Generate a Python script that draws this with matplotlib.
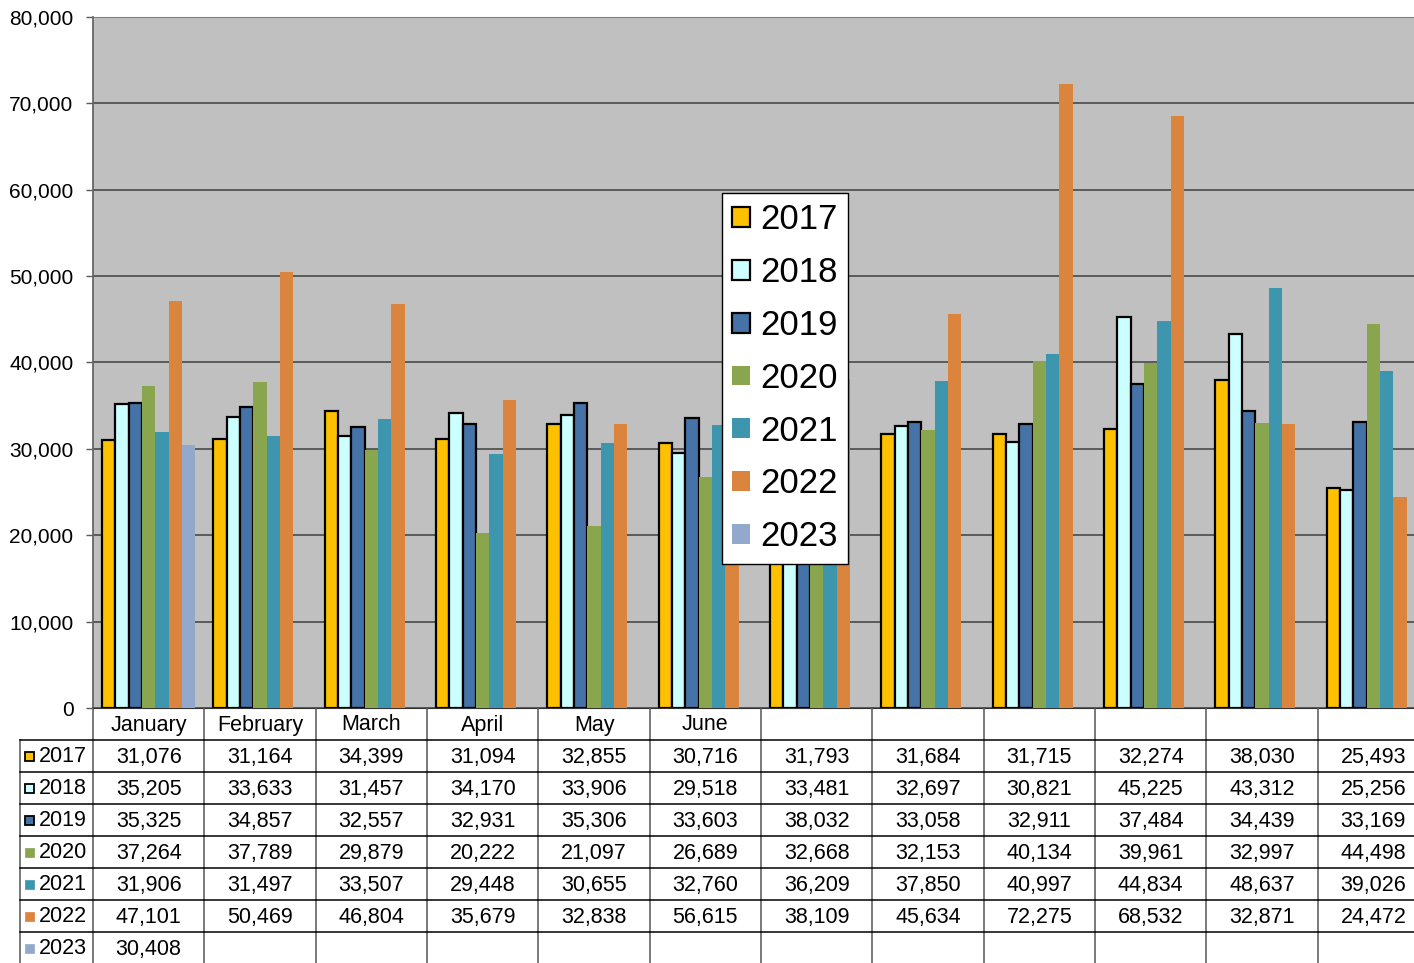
import matplotlib
matplotlib.use("Agg")
import matplotlib.pyplot as plt
from matplotlib.patches import Rectangle
import numpy as np

plt.rcParams['font.family'] = ['Liberation Sans', 'DejaVu Sans']

months = ["January", "February", "March", "April", "May", "June",
          "July", "August", "September", "October", "November", "December"]
month_labels = ["January", "February", "March", "April", "May", "June",
                "", "", "", "", "", ""]
years = ["2017", "2018", "2019", "2020", "2021", "2022", "2023"]

v2017 = [31076, 31164, 34399, 31094, 32855, 30716, 31793, 31684, 31715, 32274, 38030, 25493]
v2018 = [35205, 33633, 31457, 34170, 33906, 29518, 33481, 32697, 30821, 45225, 43312, 25256]
v2019 = [35325, 34857, 32557, 32931, 35306, 33603, 38032, 33058, 32911, 37484, 34439, 33169]
v2020 = [37264, 37789, 29879, 20222, 21097, 26689, 32668, 32153, 40134, 39961, 32997, 44498]
v2021 = [31906, 31497, 33507, 29448, 30655, 32760, 36209, 37850, 40997, 44834, 48637, 39026]
v2022 = [47101, 50469, 46804, 35679, 32838, 56615, 38109, 45634, 72275, 68532, 32871, 24472]
v2023 = [30408, None, None, None, None, None, None, None, None, None, None, None]
series = [v2017, v2018, v2019, v2020, v2021, v2022, v2023]

colors = ["#FFC000", "#CCFFFF", "#4572A7", "#89A54E", "#3D96AE", "#DB843D", "#92A8CD"]
edged = [True, True, True, False, False, False, False]

W, H = 1414, 963
fig = plt.figure(figsize=(W / 100, H / 100), dpi=100)

ax_left, ax_right, ax_top, ax_bot = 93, 1429, 17, 708
ax = fig.add_axes([ax_left / W, 1 - ax_bot / H, (ax_right - ax_left) / W, (ax_bot - ax_top) / H])
ax.set_facecolor("#C0C0C0")
ax.set_xlim(-0.5, 11.5)
ax.set_ylim(0, 80000)
yt = np.arange(0, 80001, 10000)
ax.set_yticks(yt)
ax.set_yticklabels([f"{v:,}" for v in yt], fontsize=15)
ax.tick_params(axis='y', length=5, width=1, color="#595959", pad=9)
ax.set_xticks([])
ax.yaxis.grid(True, color="#404040", linewidth=1.1)
ax.set_axisbelow(True)
ax.spines["right"].set_visible(False)
ax.spines["left"].set_color("#666666")
ax.spines["left"].set_linewidth(1.3)
ax.spines["top"].set_color("#808080")
ax.spines["bottom"].set_color("#333333")

bw = 0.12
x = np.arange(len(months))
handles = []
for i, (yr, vals) in enumerate(zip(years, series)):
    xs = [x[j] + (i - 3) * bw for j in range(12) if vals[j] is not None]
    ys = [vals[j] for j in range(12) if vals[j] is not None]
    if edged[i]:
        bc = ax.bar(xs, ys, width=bw, color=colors[i], edgecolor="black", linewidth=1.6, label=yr, zorder=3)
    else:
        bc = ax.bar(xs, ys, width=bw, color=colors[i], edgecolor="none", linewidth=0, label=yr, zorder=3)
    handles.append(bc)

leg = ax.legend(handles=handles, labels=years, loc="upper left",
                bbox_to_anchor=(722 / W, 1 - 193 / H), bbox_transform=fig.transFigure,
                borderaxespad=0, fontsize=25, fancybox=False, framealpha=1,
                edgecolor="black", handlelength=0.5, handleheight=0.5,
                handletextpad=0.3, labelspacing=0.57, borderpad=0.3)
leg.get_frame().set_linewidth(1.0)
leg.set_zorder(10)

# data table, drawn in figure pixel coordinates
tax = fig.add_axes([0, 0, 1, 1])
tax.set_xlim(0, W)
tax.set_ylim(H, 0)
tax.axis("off")
cw = (ax_right - ax_left) / 12
lab_left = 20
hdr_top = ax_bot
row_h = 32
hdr_bot = hdr_top + row_h

for k in range(13):
    xe = ax_left + k * cw
    tax.plot([xe, xe], [hdr_top, H + 5], color="#555555", lw=1.1)
tax.plot([lab_left, lab_left], [hdr_bot, H + 5], color="#555555", lw=1.1)
for r in range(len(years) + 1):
    yl = hdr_bot + r * row_h
    tax.plot([lab_left, W + 20], [yl, yl], color="black", lw=1.1)

for k, m in enumerate(month_labels):
    if m:
        tax.text(ax_left + (k + 0.5) * cw, (hdr_top + hdr_bot) / 2 + 1, m,
                 ha="center", va="center", fontsize=15.5)

for r, (yr, vals) in enumerate(zip(years, series)):
    yc = hdr_bot + (r + 0.5) * row_h + 1
    tax.add_patch(Rectangle((25, yc - 5), 9, 9, facecolor=colors[r],
                            edgecolor="black" if edged[r] else colors[r],
                            lw=1.3 if edged[r] else 0.5))
    tax.text(39, yc, yr, ha="left", va="center", fontsize=15.5)
    for k in range(12):
        if vals[k] is not None:
            tax.text(ax_left + (k + 0.5) * cw, yc, f"{vals[k]:,}",
                     ha="center", va="center", fontsize=15.5)

fig.savefig("out.png", dpi=100)
